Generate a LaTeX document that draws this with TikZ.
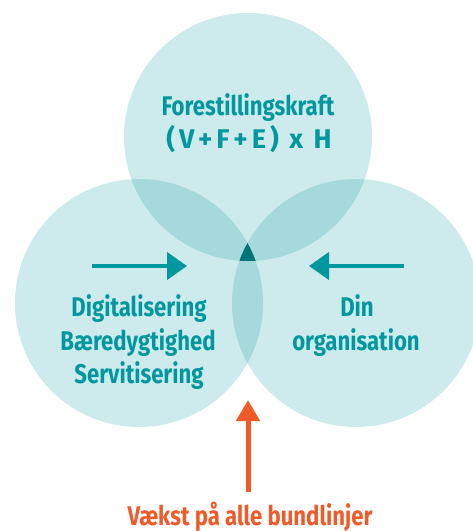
\documentclass[tikz,border=0pt]{standalone}
\usepackage{fontspec}
\setmainfont{Fira Sans}[FakeStretch=0.82]
\newfontfamily\widefont{Fira Sans}[LetterSpace=15]
\usetikzlibrary{arrows.meta}
\definecolor{lightc}{HTML}{CDEAEC}
\definecolor{midc}{HTML}{A6D9DB}
\definecolor{darkc}{HTML}{00747B}
\definecolor{tealc}{HTML}{00979E}
\definecolor{orangec}{HTML}{F05A28}
\tikzset{
  lbl/.style={anchor=base, inner sep=0pt, text=tealc, font=\fontsize{27}{30}\selectfont\bfseries},
  olbl/.style={anchor=base, inner sep=0pt, text=orangec, font=\fontsize{27}{30}\selectfont\bfseries},
  tealarrow/.style={draw=tealc, line width=4pt, -{Triangle[length=20pt,width=27pt]}},
  orangearrow/.style={draw=orangec, line width=5pt, -{Triangle[length=21pt,width=23pt]}},
}
\begin{document}
\begin{tikzpicture}[x=1pt,y=-1pt]
\useasboundingbox (0,0) rectangle (473,531);
\coordinate (cT) at (248,137);
\coordinate (cL) at (139,303);
\coordinate (cR) at (356,303);
\fill[lightc] (cT) circle[radius=124pt];
\fill[lightc] (cL) circle[radius=124pt];
\fill[lightc] (cR) circle[radius=124pt];
\begin{scope}
  \clip (cT) circle[radius=124pt];
  \fill[midc] (cL) circle[radius=124pt];
  \fill[midc] (cR) circle[radius=124pt];
\end{scope}
\begin{scope}
  \clip (cL) circle[radius=124pt];
  \fill[midc] (cR) circle[radius=124pt];
\end{scope}
\begin{scope}
  \clip (cT) circle[radius=124pt];
  \clip (cL) circle[radius=124pt];
  \fill[darkc] (cR) circle[radius=124pt];
\end{scope}
\node[lbl] (t1) at (248,115) {Forestillingskraft};
\node[lbl, font=\fontsize{27}{30}\selectfont\widefont\bfseries] (t2) at (249,148) {(V+F+E) x H};
\node[lbl] (l1) at (139,316) {Digitalisering};
\node[lbl] (l2) at (138,350) {Bæredygtighed};
\node[lbl] (l3) at (139,383) {Servitisering};
\node[lbl] (r1) at (357,316) {Din};
\node[lbl] (r2) at (356,350) {organisation};
\coordinate (la1) at (92,266);
\coordinate (la2) at (187,266);
\coordinate (ra1) at (404,266);
\coordinate (ra2) at (309,266);
\draw[tealarrow] (la1) -- (la2);
\draw[tealarrow] (ra1) -- (ra2);
\coordinate (ob) at (248,492);
\coordinate (ot) at (248,400);
\draw[orangearrow] (ob) -- (ot);
\node[olbl] (bot) at (250,525) {Vækst på alle bundlinjer};
\end{tikzpicture}
\end{document}
